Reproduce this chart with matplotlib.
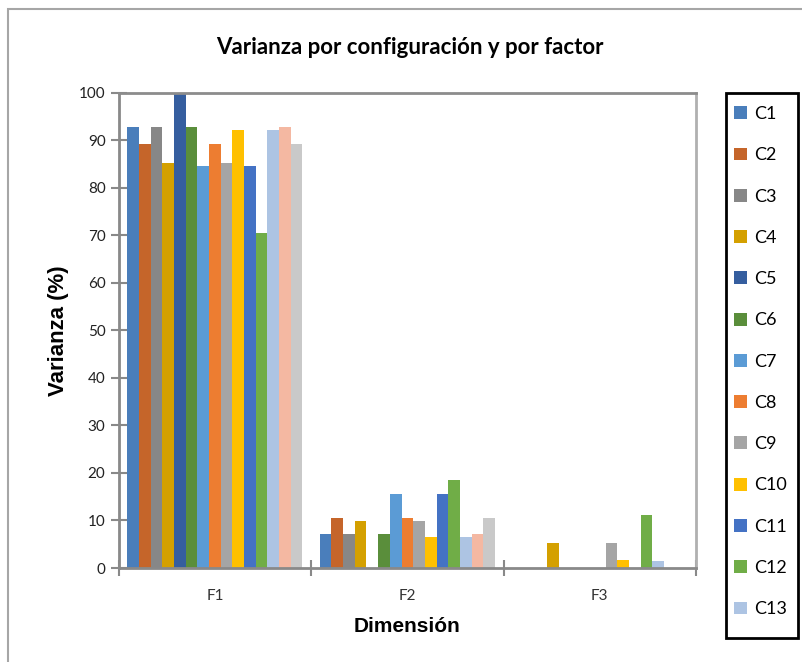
import numpy as np
import matplotlib.pyplot as plt
from matplotlib.patches import Rectangle, Patch

# ---- data ----
categories = ["F1", "F2", "F3"]
series = ["C1", "C2", "C3", "C4", "C5", "C6", "C7", "C8",
          "C9", "C10", "C11", "C12", "C13", "C14", "C15"]
f1_values = [92.8, 89.3, 92.8, 85.2, 100.0, 92.8, 84.6, 89.3,
             85.2, 92.2, 84.6, 70.4, 92.2, 92.8, 89.3]
f2_values = [7.2, 10.5, 7.2, 9.9, 0.0, 7.2, 15.6, 10.5,
             9.9, 6.5, 15.6, 18.5, 6.5, 7.2, 10.5]
f3_values = [0.0, 0.0, 0.0, 5.2, 0.0, 0.0, 0.0, 0.0,
             5.2, 1.7, 0.0, 11.1, 1.4, 0.0, 0.0]
colors = ["#4A7EBB", "#C5652A", "#878787", "#D4A000", "#355E9F",
          "#5A8E3B", "#5B9BD5", "#ED7D31", "#A5A5A5", "#FFC000",
          "#4472C4", "#70AD47", "#ADC4E3", "#F4B8A2", "#C9C9C9"]
legend_count = 13  # the legend box in the original only shows C1..C13

W, H = 803, 662
fig = plt.figure(figsize=(W / 100, H / 100), dpi=100)

# outer chart border (right and bottom edges run off the picture)
fig.patches.append(Rectangle((8 / W, -0.05), 1.0, 1 - 9 / H + 0.05,
                             transform=fig.transFigure, fill=False,
                             edgecolor="#a6a6a6", linewidth=1.5))

ax_l, ax_r, ax_t, ax_b = 118.7, 696, 92.7, 568
ax = fig.add_axes([ax_l / W, 1 - ax_b / H, (ax_r - ax_l) / W, (ax_b - ax_t) / H])

values = np.array([f1_values, f2_values, f3_values])  # (cat, series)
n = len(series)
width = 0.91 / n
x = np.arange(len(categories))
for i, (name, color) in enumerate(zip(series, colors)):
    ax.bar(x + (i - (n - 1) / 2) * width, values[:, i], width=width,
           color=color, label=name, linewidth=0)

ax.set_xlim(-0.5, 2.5)
ax.set_ylim(0, 100)
ax.set_yticks(np.arange(0, 101, 10))
ax.set_xticks(x)
ax.set_xticklabels(categories)
ax.set_xticks([-0.5, 0.5, 1.5, 2.5], minor=True)
ax.tick_params(axis="x", which="major", length=0, pad=15,
               labelsize=11, colors="#333333")
ax.tick_params(axis="x", which="minor", direction="inout", length=11,
               width=1.5, color="#898989")
ax.tick_params(axis="y", direction="inout", length=11, width=1.5,
               color="#898989", labelsize=11, pad=4, labelcolor="#222222")
for lab in ax.get_xticklabels() + ax.get_yticklabels():
    lab.set_fontfamily("Lato")

for side in ["left", "bottom"]:
    ax.spines[side].set_color("#898989")
    ax.spines[side].set_linewidth(2)
ax.spines["top"].set_color("#8c8c8c")
ax.spines["top"].set_linewidth(2)
ax.spines["right"].set_color("#b0b0b0")
ax.spines["right"].set_linewidth(2)

ax.set_ylabel("Varianza (%)", fontsize=16, fontweight="bold",
              family="Liberation Sans", labelpad=7)
ax.set_xlabel("Dimensión", fontsize=15, fontweight="bold",
              family="Liberation Sans", labelpad=10)

fig.text(410 / W, 1 - 47 / H, "Varianza por configuración y por factor",
         ha="center", va="center", fontsize=16, fontweight="bold",
         family="Lato")

# legend: entries without frame, frame drawn separately at its own size
handles = [Patch(facecolor=c, edgecolor="none") for c in colors[:legend_count]]
leg = fig.legend(handles, series[:legend_count], loc="upper left",
                 bbox_to_anchor=(734 / W, 1 - 106 / H),
                 frameon=False, prop={"family": "Lato", "size": 13},
                 handlelength=0.72, handleheight=0.72, handletextpad=0.4,
                 labelspacing=1.40, borderpad=0, borderaxespad=0)
fig.patches.append(Rectangle((725.7 / W, 1 - 638 / H), 72 / W, (638 - 93.3) / H,
                             transform=fig.transFigure, fill=False,
                             edgecolor="black", linewidth=2))

fig.savefig("out.png", dpi=100)
